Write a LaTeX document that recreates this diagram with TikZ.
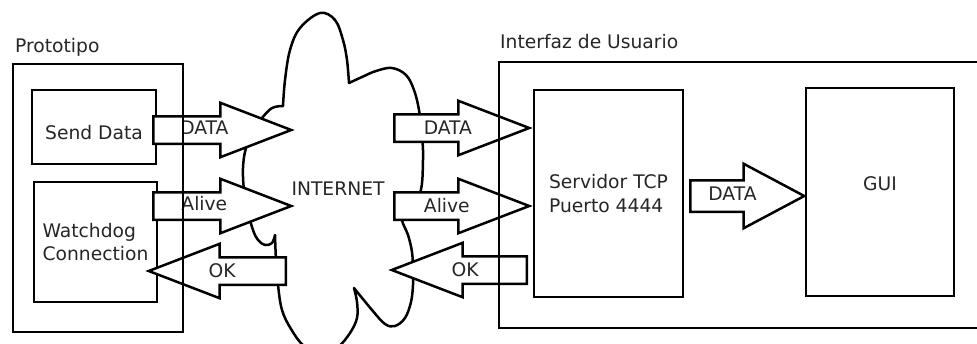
\documentclass[tikz,border=0pt]{standalone}
\usepackage{fontspec}
\setmainfont{DejaVu Sans}
\usetikzlibrary{positioning, shapes.arrows}

\begin{document}
\begin{tikzpicture}[
  x=1pt, y=-1pt,
  every node/.style={font=\fontsize{18.7}{23.5}\selectfont, text=black!85},
  box/.style={draw=black, line width=2.5pt, align=left},
  frame/.style={draw=black, line width=2.5pt, inner sep=0pt},
  flow/.style={single arrow, draw=black, fill=white, line width=2.5pt,
               single arrow head extend=13.5pt, single arrow tip angle=42,
               text height=13pt, text depth=4pt, inner ysep=4pt, inner xsep=2pt,
               anchor=tail},
  back/.style={flow, shape border rotate=180},
  cloudline/.style={draw=black, line width=2.5pt, line join=round},
]
  \useasboundingbox (0,0) rectangle (977,343);

  % cloud
  \draw[cloudline] plot[smooth, tension=0.6] coordinates {(255,128) (262,118) (272,108) (283,106)}
    -- plot[smooth, tension=0.6] coordinates {(283,106) (285,80) (290,50) (300,28) (320,13) (335,20) (343,40) (347,60) (349,83)}
    -- plot[smooth, tension=0.6] coordinates {(349,83) (362,77) (376,71) (392,68) (406,75) (414,90) (419,110) (422,135) (423,160) (420,193) (405,210)}
    -- plot[smooth, tension=0.6] coordinates {(405,210) (402,220) (408,235) (412,252) (413,270) (413,285) (411,302) (405,318) (395,326) (385,324) (372,310) (354,288)}
    -- plot[smooth, tension=0.6] coordinates {(354,288) (357,302) (357,318) (350,333) (338,347) (322,354) (304,346) (291,329) (282,310) (278,285) (276,260) (275,235)}
    -- plot[smooth, tension=0.6] coordinates {(275,235) (272,243) (265,245) (258,240) (253,230) (248,212) (244,190) (243,168) (246,148) (255,128)}
    -- cycle;

  % Prototipo
  \node[box, minimum width=124pt, minimum height=74pt, text height=25.6pt, text depth=0pt] (send) at (94,127) {Send Data};
  \node[box, minimum width=123pt, minimum height=120pt] (watch) at (95.5,242) {Watchdog\\Connection};

  % Interfaz de Usuario
  \node[box, minimum width=149pt, minimum height=207pt] (tcp) at (608.5,193.5) {Servidor TCP\\Puerto 4444};
  \node[box, minimum width=148pt, minimum height=208pt, text depth=16pt] (gui) at (880,192) {GUI};

  \node[inner sep=0pt] (inet) at (338,189) {INTERNET};

  % flechas
  \node[flow, minimum height=138pt] (dataout) at (152,130) {DATA};
  \node[flow, minimum height=138pt] (aliveout) at (152,206) {Alive};
  \node[back, minimum height=137pt, label={[xshift=-13pt]center:OK}] (okin) at (287,271) {};

  \node[flow, minimum height=135pt, label={[xshift=4pt]center:DATA}] (datain) at (393,128) {};
  \node[flow, minimum height=135pt, label={[xshift=3pt]center:Alive}] (alivein) at (393,206) {};
  \node[back, minimum height=135pt, label={[xshift=-12pt]center:OK}] (okout) at (528,270) {};

  \node[flow, minimum height=114pt, inner ysep=6pt, single arrow head extend=16.5pt,
        single arrow tip angle=56] (datagui) at (689,196) {DATA};

  % marcos
  \node[frame, minimum width=170pt, minimum height=268pt] (proto) at (98,198) {};
  \node[frame, minimum width=491pt, minimum height=266pt] (iface) at (744.5,195) {};

  \node[anchor=base west, inner sep=0pt] at (15,52) {Prototipo};
  \node[anchor=base west, inner sep=0pt] at (500,48) {Interfaz de Usuario};
\end{tikzpicture}
\end{document}
